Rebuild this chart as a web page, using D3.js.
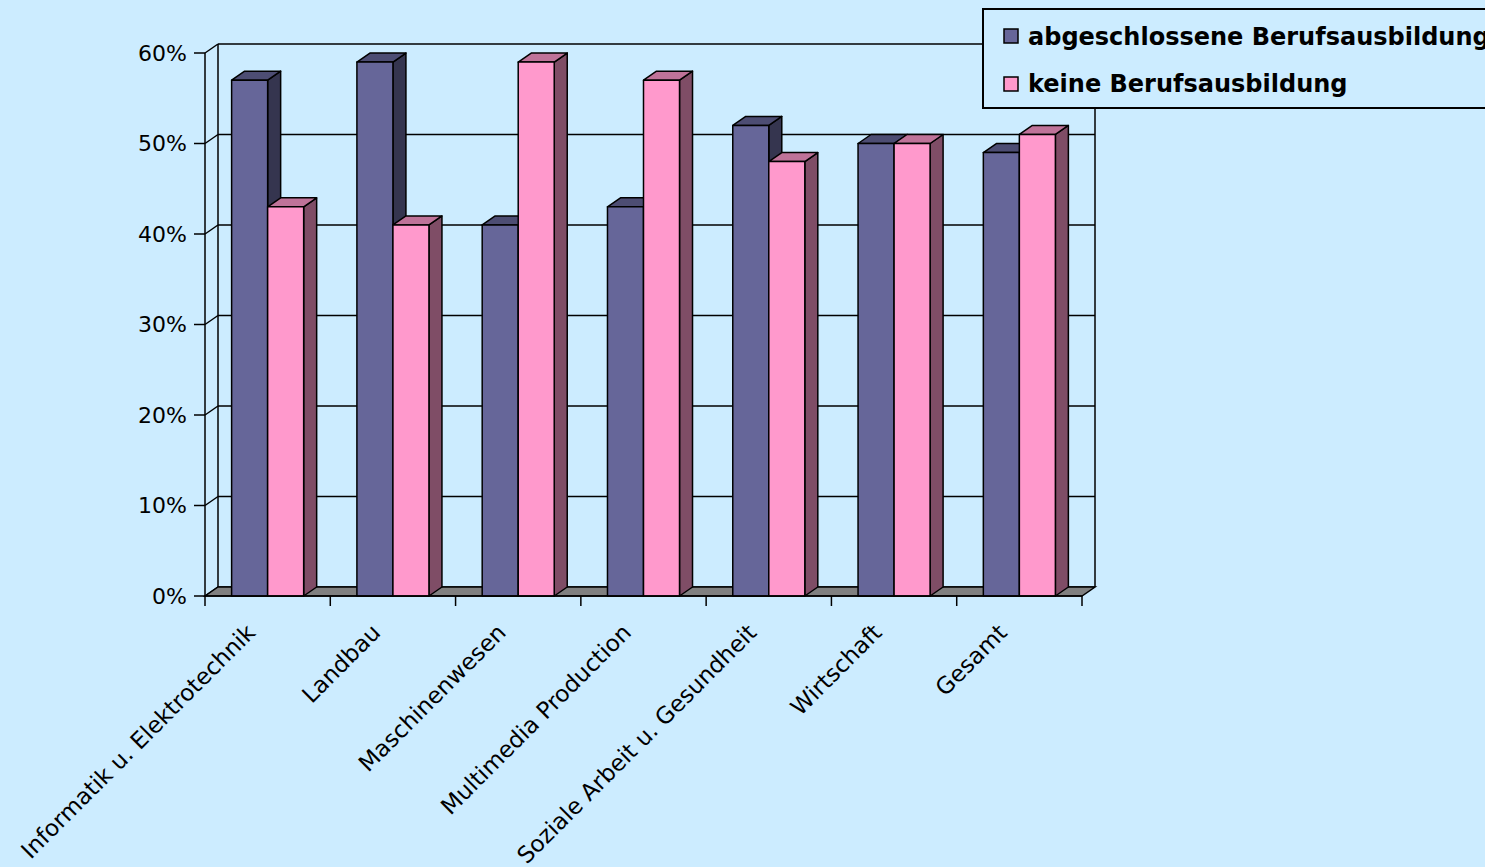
<!DOCTYPE html>
<html>
<head>
<meta charset="utf-8">
<script src="https://cdnjs.cloudflare.com/ajax/libs/d3/7.8.5/d3.min.js"></script>
<style>
html, body { margin: 0; padding: 0; background: #CCECFF; overflow: hidden; }
text { font-family: "DejaVu Sans", Verdana, sans-serif; fill: #000; }
</style>
</head>
<body>
<div id="chart"></div>
<script>
var w = 1485;
var h = 867;

var categories = ["Informatik u. Elektrotechnik", "Landbau", "Maschinenwesen",
                  "Multimedia Production", "Soziale Arbeit u. Gesundheit", "Wirtschaft", "Gesamt"];
var seriesNames = ["abgeschlossene Berufsausbildung", "keine Berufsausbildung"];
var abgeschlossen = [57, 59, 41, 43, 52, 50, 49];
var keine = [43, 41, 59, 57, 48, 50, 51];
var yTicks = [0, 10, 20, 30, 40, 50, 60];

// front, top, side shades per series
var colors = [
    { front: "#666699", top: "#4d4d73", side: "#35354f" },
    { front: "#FF99CC", top: "#bf7399", side: "#7f4d66" }
];

// 3d depth offset
var dx = 13, dy = 9;

var svg = d3.select("#chart")
            .append("svg")
            .attr("width", w)
            .attr("height", h);

var x0 = d3.scaleBand()
           .domain(categories)
           .range([205, 1082])
           .paddingInner(0.425)
           .paddingOuter(0.2125);

var x1 = d3.scaleBand()
           .domain([0, 1])
           .range([0, x0.bandwidth()]);

var y = d3.scaleLinear()
          .domain([0, 60])
          .range([596, 53]);

var left = 205, right = 1082;
var base = y(0);

// left wall diagonals + back wall grid lines
var grid = svg.append("g").attr("stroke", "#000").attr("stroke-width", 1.5).attr("fill", "none");

yTicks.forEach(function (v) {
    grid.append("line")
        .attr("x1", left).attr("y1", y(v))
        .attr("x2", left + dx).attr("y2", y(v) - dy);
    grid.append("line")
        .attr("x1", left + dx).attr("y1", y(v) - dy)
        .attr("x2", right + dx).attr("y2", y(v) - dy);
});

// wall edges
grid.append("line").attr("x1", left + dx).attr("y1", y(60) - dy).attr("x2", left + dx).attr("y2", base - dy);
grid.append("line").attr("x1", right + dx).attr("y1", y(60) - dy).attr("x2", right + dx).attr("y2", base - dy);

// floor
svg.append("polygon")
   .attr("points", [[left, base], [right, base], [right + dx, base - dy], [left + dx, base - dy]].join(" "))
   .attr("fill", "#808080")
   .attr("stroke", "#000")
   .attr("stroke-width", 1.5);

// bars
var data = [];
categories.forEach(function (c, i) {
    [abgeschlossen[i], keine[i]].forEach(function (v, s) {
        data.push({ cat: c, s: s, v: v });
    });
});

var bars = svg.selectAll("g.bar")
              .data(data)
              .enter()
              .append("g")
              .attr("class", "bar")
              .attr("stroke", "#000")
              .attr("stroke-width", 1.5)
              .attr("stroke-linejoin", "round");

bars.each(function (d) {
    var g = d3.select(this);
    var bx = x0(d.cat) + x1(d.s);
    var bw = x1.bandwidth();
    var ty = y(d.v);
    g.append("polygon")
     .attr("points", [[bx + bw, ty], [bx + bw + dx, ty - dy], [bx + bw + dx, base - dy], [bx + bw, base]].join(" "))
     .attr("fill", colors[d.s].side);
    g.append("polygon")
     .attr("points", [[bx, ty], [bx + bw, ty], [bx + bw + dx, ty - dy], [bx + dx, ty - dy]].join(" "))
     .attr("fill", colors[d.s].top);
    g.append("rect")
     .attr("x", bx).attr("y", ty)
     .attr("width", bw).attr("height", base - ty)
     .attr("fill", colors[d.s].front);
});

// y axis
var yAxis = svg.append("g").attr("stroke", "#000").attr("stroke-width", 1.5);
yAxis.append("line").attr("x1", left).attr("y1", y(60)).attr("x2", left).attr("y2", base);
yTicks.forEach(function (v) {
    yAxis.append("line").attr("x1", left - 11).attr("y1", y(v)).attr("x2", left).attr("y2", y(v));
});

svg.selectAll("text.ytick")
   .data(yTicks)
   .enter()
   .append("text")
   .attr("class", "ytick")
   .attr("x", 187)
   .attr("y", function (d) { return y(d); })
   .attr("dy", "0.36em")
   .attr("text-anchor", "end")
   .style("font-size", "22px")
   .text(function (d) { return d + "%"; });

// x axis ticks
var xAxis = svg.append("g").attr("stroke", "#000").attr("stroke-width", 1.5);
xAxis.append("line").attr("x1", left).attr("y1", base).attr("x2", right).attr("y2", base);
var step = x0.step();
d3.range(categories.length + 1).forEach(function (i) {
    var tx = left + i * step;
    xAxis.append("line").attr("x1", tx).attr("y1", base).attr("x2", tx).attr("y2", base + 10);
});

svg.selectAll("text.xlabel")
   .data(categories)
   .enter()
   .append("text")
   .attr("class", "xlabel")
   .attr("text-anchor", "end")
   .attr("transform", function (d) {
       var cx = x0(d) + x0.bandwidth() / 2;
       return "translate(" + (cx - 11) + ",634) rotate(-45)";
   })
   .style("font-size", "23px")
   .text(function (d) { return d; });

// legend
var legend = svg.append("g");
legend.append("rect")
      .attr("x", 983).attr("y", 9)
      .attr("width", 520).attr("height", 99)
      .attr("fill", "#CCECFF")
      .attr("stroke", "#000")
      .attr("stroke-width", 2);

seriesNames.forEach(function (name, i) {
    legend.append("rect")
          .attr("x", 1004).attr("y", 29 + i * 48)
          .attr("width", 14).attr("height", 14)
          .attr("fill", colors[i].front)
          .attr("stroke", "#000")
          .attr("stroke-width", 1.5);
    legend.append("text")
          .attr("x", 1028).attr("y", 45 + i * 47)
          .style("font-size", "24px")
          .style("font-weight", "bold")
          .text(name);
});
</script>
</body>
</html>
